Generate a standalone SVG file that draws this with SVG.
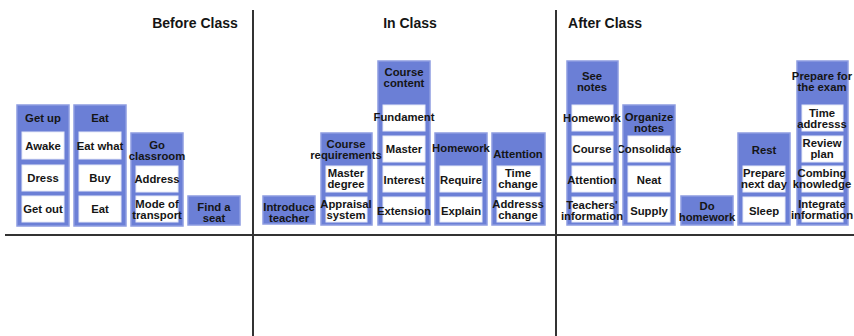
<svg xmlns="http://www.w3.org/2000/svg" width="854" height="336" viewBox="0 0 854 336">
<style>
.col{fill:#6b7fd6;stroke:#8d9ce1;stroke-width:1.5}
.box{fill:#ffffff;stroke:#e6e9f7;stroke-width:1}
text{font-family:"Liberation Sans",Arial,sans-serif;font-weight:bold;fill:#151515;text-anchor:middle}
.t{font-size:11.3px}
.h{font-size:14px}
.ln{stroke:#333;stroke-width:2;fill:none}
</style>
<rect width="854" height="336" fill="#ffffff"/>
<g id="connectors">
<line class="ln" x1="5" y1="235" x2="854" y2="235"/>
<line class="ln" x1="253" y1="10" x2="253" y2="336"/>
<line class="ln" x1="556" y1="10" x2="556" y2="336"/>
</g>
<g id="headers">
<text class="h" x="195" y="28">Before Class</text>
<text class="h" x="410" y="28">In Class</text>
<text class="h" x="605" y="28">After Class</text>
</g>
<g id="get-up">
<rect class="col" x="17" y="105" width="52" height="121"/>
<text class="t" x="43" y="122">Get up</text>
<rect class="box" x="22" y="132" width="42" height="27"/><text class="t" x="43" y="150">Awake</text>
<rect class="box" x="22" y="165" width="42" height="26"/><text class="t" x="43" y="182">Dress</text>
<rect class="box" x="22" y="196" width="42" height="26"/><text class="t" x="43" y="213">Get out</text>
</g>
<g id="eat">
<rect class="col" x="74" y="105" width="52" height="121"/>
<text class="t" x="100" y="122">Eat</text>
<rect class="box" x="79" y="132" width="42" height="27"/><text class="t" x="100" y="150">Eat what</text>
<rect class="box" x="79" y="165" width="42" height="26"/><text class="t" x="100" y="182">Buy</text>
<rect class="box" x="79" y="196" width="42" height="26"/><text class="t" x="100" y="213">Eat</text>
</g>
<g id="go-classroom">
<rect class="col" x="131" y="133" width="52" height="93"/>
<text class="t" x="157" y="148.5">Go</text>
<text class="t" x="157" y="159.5">classroom</text>
<rect class="box" x="136" y="166" width="42" height="26"/><text class="t" x="157" y="183">Address</text>
<rect class="box" x="136" y="196" width="42" height="26"/><text class="t" x="157" y="208">Mode of</text><text class="t" x="157" y="219">transport</text>
</g>
<g id="find-a-seat">
<rect class="col" x="188" y="196" width="52" height="29"/>
<text class="t" x="214" y="210.5">Find a</text>
<text class="t" x="214" y="221.5">seat</text>
</g>
<g id="introduce-teacher">
<rect class="col" x="263" y="196" width="52" height="28"/>
<text class="t" x="289" y="210.5">Introduce</text>
<text class="t" x="289" y="221.5">teacher</text>
</g>
<g id="course-content">
<rect class="col" x="378" y="61" width="52" height="164"/>
<text class="t" x="404" y="75.5">Course</text>
<text class="t" x="404" y="86.5">content</text>
<rect class="box" x="383" y="105" width="42" height="26"/><text class="t" x="404" y="121">Fundament</text>
<rect class="box" x="383" y="136" width="42" height="26"/><text class="t" x="404" y="153">Master</text>
<rect class="box" x="383" y="166" width="42" height="26"/><text class="t" x="404" y="184">Interest</text>
<rect class="box" x="383" y="197" width="42" height="25"/><text class="t" x="404" y="215">Extension</text>
</g>
<g id="course-requirements">
<rect class="col" x="321" y="133" width="51" height="92"/>
<text class="t" x="346" y="147.5">Course</text>
<text class="t" x="346" y="158.5">requirements</text>
<rect class="box" x="326" y="166" width="41" height="26"/><text class="t" x="346" y="177">Master</text><text class="t" x="346" y="188">degree</text>
<rect class="box" x="326" y="197" width="41" height="25"/><text class="t" x="346" y="208">Appraisal</text><text class="t" x="346" y="219">system</text>
</g>
<g id="homework">
<rect class="col" x="435" y="133" width="52" height="92"/>
<text class="t" x="461" y="152">Homework</text>
<rect class="box" x="440" y="166" width="42" height="26"/><text class="t" x="461" y="184">Require</text>
<rect class="box" x="440" y="197" width="42" height="25"/><text class="t" x="461" y="215">Explain</text>
</g>
<g id="attention">
<rect class="col" x="492" y="133" width="53" height="92"/>
<text class="t" x="518" y="158">Attention</text>
<rect class="box" x="497" y="166" width="43" height="26"/><text class="t" x="518" y="177">Time</text><text class="t" x="518" y="188">change</text>
<rect class="box" x="497" y="197" width="43" height="25"/><text class="t" x="518" y="208">Addresss</text><text class="t" x="518" y="219">change</text>
</g>
<g id="organize-notes">
<rect class="col" x="623" y="105" width="52" height="120"/>
<text class="t" x="649" y="120.5">Organize</text>
<text class="t" x="649" y="131.5">notes</text>
<rect class="box" x="628" y="136" width="42" height="26"/><text class="t" x="649" y="153">Consolidate</text>
<rect class="box" x="628" y="166" width="42" height="26"/><text class="t" x="649" y="184">Neat</text>
<rect class="box" x="628" y="197" width="42" height="25"/><text class="t" x="649" y="215">Supply</text>
</g>
<g id="see-notes">
<rect class="col" x="567" y="61" width="51" height="164"/>
<text class="t" x="592" y="79.5">See</text>
<text class="t" x="592" y="90.5">notes</text>
<rect class="box" x="572" y="105" width="41" height="26"/><text class="t" x="592" y="122">Homework</text>
<rect class="box" x="572" y="136" width="41" height="26"/><text class="t" x="592" y="153">Course</text>
<rect class="box" x="572" y="166" width="41" height="26"/><text class="t" x="592" y="184">Attention</text>
<rect class="box" x="572" y="197" width="41" height="25"/><text class="t" x="592" y="209">Teachers'</text><text class="t" x="592" y="220">information</text>
</g>
<g id="do-homework">
<rect class="col" x="681" y="196" width="52" height="29"/>
<text class="t" x="707" y="209.5">Do</text>
<text class="t" x="707" y="220.5">homework</text>
</g>
<g id="rest">
<rect class="col" x="738" y="133" width="52" height="92"/>
<text class="t" x="764" y="154">Rest</text>
<rect class="box" x="743" y="166" width="42" height="26"/><text class="t" x="764" y="177">Prepare</text><text class="t" x="764" y="188">next day</text>
<rect class="box" x="743" y="197" width="42" height="25"/><text class="t" x="764" y="215">Sleep</text>
</g>
<g id="prepare-for-the-exam">
<rect class="col" x="797" y="61" width="51" height="164"/>
<text class="t" x="822" y="79.5">Prepare for</text>
<text class="t" x="822" y="90.5">the exam</text>
<rect class="box" x="802" y="105" width="41" height="26"/><text class="t" x="822" y="117">Time</text><text class="t" x="822" y="128">addresss</text>
<rect class="box" x="802" y="136" width="41" height="26"/><text class="t" x="822" y="147">Review</text><text class="t" x="822" y="158">plan</text>
<rect class="box" x="802" y="166" width="41" height="26"/><text class="t" x="822" y="177">Combing</text><text class="t" x="822" y="188">knowledge</text>
<rect class="box" x="802" y="197" width="41" height="25"/><text class="t" x="822" y="208">Integrate</text><text class="t" x="822" y="219">information</text>
</g>
</svg>
